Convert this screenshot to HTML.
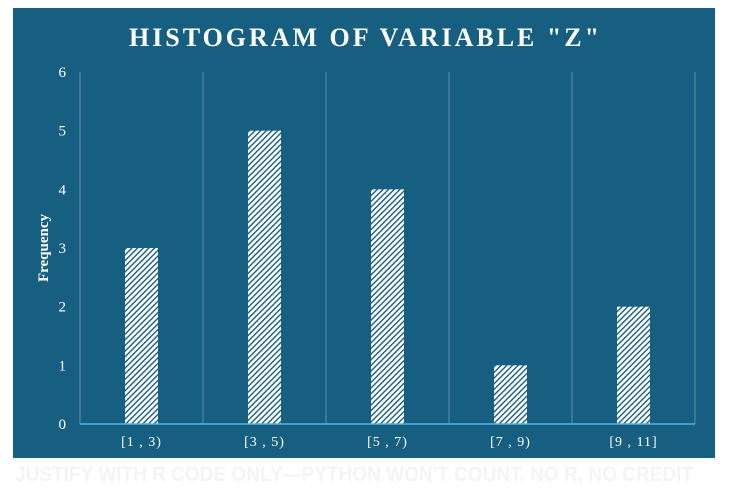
<!DOCTYPE html>
<html><head><meta charset="utf-8"><style>
html,body{margin:0;padding:0;background:#fff;width:732px;height:500px;overflow:hidden}
svg{display:block}
</style></head><body>
<svg width="732" height="500" xmlns="http://www.w3.org/2000/svg">
<defs>
<pattern id="hatch" patternUnits="userSpaceOnUse" width="4" height="4" patternTransform="rotate(45)">
<rect width="4" height="4" fill="#ffffff"/>
<rect x="0" y="0" width="1.4" height="4" fill="#175f80"/>
</pattern>
</defs>
<rect x="13" y="8" width="702" height="450" fill="#175f80"/>
<text x="364" y="46" text-anchor="middle" fill="#fff" font-family="Liberation Serif, serif" font-weight="bold" font-size="26" textLength="470" lengthAdjust="spacing">HISTOGRAM OF VARIABLE "Z"</text>
<text transform="translate(48,248) rotate(-90)" text-anchor="middle" fill="#fff" font-family="Liberation Serif, serif" font-weight="bold" font-size="15">Frequency</text>
<g id="grid"></g>
<g id="bars"></g>
<g id="labels"></g>
<text x="15" y="481" fill="#f4f4f4" font-family="Liberation Sans, sans-serif" font-weight="bold" font-size="21" textLength="678" lengthAdjust="spacingAndGlyphs">JUSTIFY WITH R CODE ONLY—PYTHON WON'T COUNT. NO R, NO CREDIT</text>
</svg>
<script>
const categories = ["[1 , 3)", "[3 , 5)", "[5 , 7)", "[7 , 9)", "[9 , 11]"];
const frequencies = [3, 5, 4, 1, 2];
const yTicks = [0, 1, 2, 3, 4, 5, 6];

const NS = "http://www.w3.org/2000/svg";
const plotLeft = 80, plotRight = 695, plotBase = 424, plotTop = 72, yMax = 6;
const bandW = (plotRight - plotLeft) / categories.length;
const barW = 33;
function yScale(v){ return plotBase - (plotBase - plotTop) * v / yMax; }
function xCenter(i){ return plotLeft + bandW * (i + 0.5); }
function mk(tag, attrs){ const e = document.createElementNS(NS, tag); for (const k in attrs) e.setAttribute(k, attrs[k]); return e; }

const grid = document.getElementById('grid');
for (let i = 0; i <= categories.length; i++) {
  const x = plotLeft + bandW * i;
  const l = mk('line', {x1:x, x2:x, y1:plotTop, y2:plotBase, stroke:'#5d8fa8', 'stroke-width':1});
  
  
  grid.appendChild(l);
}
yTicks.forEach(t => {
  const tx = mk('text', {x:66, y:yScale(t)+5, 'text-anchor':'end', fill:'#fff', 'font-family':'Liberation Serif, serif', 'font-size':15});
  tx.textContent = t;
  
  
  grid.appendChild(tx);
});

const bars = document.getElementById('bars');
frequencies.forEach((v, i) => {
  const r = mk('rect', {x:xCenter(i)-barW/2, y:yScale(v), width:barW, height:plotBase-yScale(v), fill:'url(#hatch)'});
  
  
  bars.appendChild(r);
});
const ax = mk('line', {x1:plotLeft, x2:plotRight, y1:plotBase, y2:plotBase, stroke:'#4fb6e6', 'stroke-width':1.5});


bars.appendChild(ax);

const labels = document.getElementById('labels');
categories.forEach((c, i) => {
  const tx = mk('text', {x:xCenter(i), y:446, 'text-anchor':'middle', fill:'#fff', 'font-family':'Liberation Serif, serif', 'font-size':14, 'letter-spacing':'1'});
  tx.textContent = c;
  
  
  labels.appendChild(tx);
});
</script>
</body></html>
